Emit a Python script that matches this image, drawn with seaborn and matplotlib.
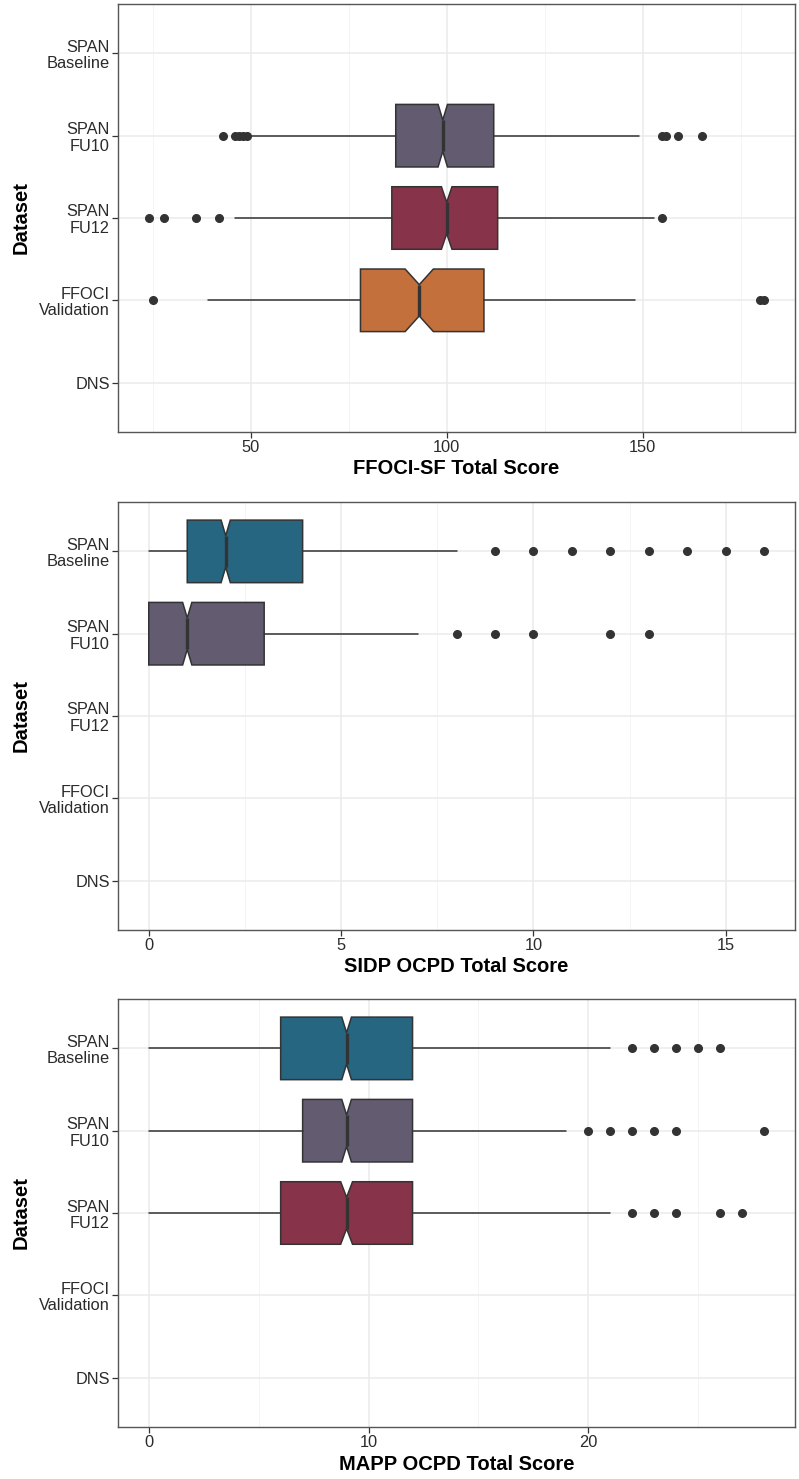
import numpy as np
import pandas as pd
import matplotlib
matplotlib.use("Agg")
import matplotlib.pyplot as plt
from matplotlib.ticker import FixedLocator
import seaborn as sns

# ---------------- data ----------------
datasets = ["SPAN\nBaseline", "SPAN\nFU10", "SPAN\nFU12", "FFOCI\nValidation", "DNS"]
dataset_colors = ["#266680", "#635B70", "#87344A", "#C4703D", "#888888"]

# Panel 1: FFOCI-SF Total Score
ffoci_groups = ["SPAN\nFU10", "SPAN\nFU12", "FFOCI\nValidation"]
ffoci_q1 = [87, 86, 78]
ffoci_med = [99, 100, 93]
ffoci_q3 = [112, 113, 109.5]
ffoci_notch = [1.2, 1.35, 3.6]
ffoci_whislo = [50, 46, 39]
ffoci_whishi = [149, 153, 148]
ffoci_fliers = [[43, 46, 47, 48, 49, 155, 156, 159, 165],
                [24, 28, 36, 42, 155],
                [25, 180, 181]]

# Panel 2: SIDP OCPD Total Score
sidp_groups = ["SPAN\nBaseline", "SPAN\nFU10"]
sidp_q1 = [1, 0]
sidp_med = [2, 1]
sidp_q3 = [4, 3]
sidp_notch = [0.12, 0.12]
sidp_whislo = [0, 0]
sidp_whishi = [8, 7]
sidp_fliers = [[9, 10, 11, 12, 13, 14, 15, 16],
               [8, 9, 10, 12, 13]]

# Panel 3: MAPP OCPD Total Score
mapp_groups = ["SPAN\nBaseline", "SPAN\nFU10", "SPAN\nFU12"]
mapp_q1 = [6, 7, 6]
mapp_med = [9, 9, 9]
mapp_q3 = [12, 12, 12]
mapp_notch = [0.22, 0.22, 0.27]
mapp_whislo = [0, 0, 0]
mapp_whishi = [21, 19, 21]
mapp_fliers = [[22, 23, 24, 25, 26],
               [20, 21, 22, 23, 24, 28],
               [22, 23, 24, 26, 27]]

x_titles = ["FFOCI-SF Total Score", "SIDP OCPD Total Score", "MAPP OCPD Total Score"]
major_ticks = [[50, 100, 150], [0, 5, 10, 15], [0, 10, 20]]
minor_ticks = [[25, 75, 125, 175], [2.5, 7.5, 12.5], [5, 15, 25]]

# ---------------- style ----------------
sns.set_theme(style="whitegrid")
plt.rcParams["font.family"] = ["Liberation Sans", "DejaVu Sans"]

palette = dict(zip(datasets, sns.color_palette(dataset_colors)))
dark = "#333333"

W, H = 799, 1479
fig = plt.figure(figsize=(W / 100, H / 100), dpi=100)

panel_px = [(4, 432), (502, 930), (999, 1427)]
left_px, right_px = 118, 795

panels = [
    (ffoci_groups, ffoci_q1, ffoci_med, ffoci_q3, ffoci_notch, ffoci_whislo, ffoci_whishi, ffoci_fliers),
    (sidp_groups, sidp_q1, sidp_med, sidp_q3, sidp_notch, sidp_whislo, sidp_whishi, sidp_fliers),
    (mapp_groups, mapp_q1, mapp_med, mapp_q3, mapp_notch, mapp_whislo, mapp_whishi, mapp_fliers),
]

for i, (groups, q1, med, q3, notch, wlo, whi, fl) in enumerate(panels):
    top, bot = panel_px[i]
    ax = fig.add_axes([left_px / W, 1 - bot / H, (right_px - left_px) / W, (bot - top) / H])
    stats = []
    for g, a, m, b, n, lo, hi, f in zip(groups, q1, med, q3, notch, wlo, whi, fl):
        stats.append(dict(label=g, q1=a, med=m, q3=b, cilo=m - n, cihi=m + n,
                          whislo=lo, whishi=hi, fliers=np.array(f, dtype=float)))
    positions = [datasets.index(g) for g in groups]
    res = ax.bxp(stats, positions=positions, widths=0.76, orientation="horizontal",
                 shownotches=True, showcaps=False, patch_artist=True,
                 boxprops=dict(edgecolor=dark, linewidth=1.1),
                 whiskerprops=dict(color=dark, linewidth=1.1),
                 medianprops=dict(color=dark, linewidth=2.4, solid_capstyle="butt"),
                 flierprops=dict(marker="o", markerfacecolor=dark, markeredgecolor=dark,
                                 markersize=5.5, linestyle="none"),
                 manage_ticks=False)
    for patch, g in zip(res["boxes"], groups):
        patch.set_facecolor(palette[g])

    # limits with 5% expansion computed from the data
    allv = [v for f in fl for v in f] + list(wlo) + list(whi)
    lo_v, hi_v = min(allv), max(allv)
    pad = 0.05 * (hi_v - lo_v)
    ax.set_xlim(lo_v - pad, hi_v + pad)
    ax.set_ylim(len(datasets) - 1 + 0.6, -0.6)

    ax.set_yticks(range(len(datasets)))
    ax.set_yticklabels(datasets, linespacing=1.12, multialignment="right")
    ax.set_xticks(major_ticks[i])
    ax.xaxis.set_minor_locator(FixedLocator(minor_ticks[i]))

    ax.set_axisbelow(True)
    ax.grid(False)
    ax.grid(True, which="major", axis="both", color="#EBEBEB", linewidth=1.1)
    ax.grid(True, which="minor", axis="x", color="#F2F2F2", linewidth=0.6)
    ax.set_facecolor("white")
    for s in ax.spines.values():
        s.set_visible(True)
        s.set_color("#555555")
        s.set_linewidth(1.0)
    ax.tick_params(axis="both", which="major", direction="out", length=4, width=0.9,
                   color=dark, labelsize=11.8, labelcolor="#2b2b2b", pad=2,
                   left=True, bottom=True)
    ax.tick_params(axis="x", which="minor", length=0)
    ax.set_xlabel(x_titles[i], fontsize=14.5, fontweight="bold", color="black", labelpad=3)
    ax.set_ylabel("Dataset", fontsize=14.5, fontweight="bold", color="black", labelpad=6)

fig.savefig("out.png", dpi=100, facecolor="white")
